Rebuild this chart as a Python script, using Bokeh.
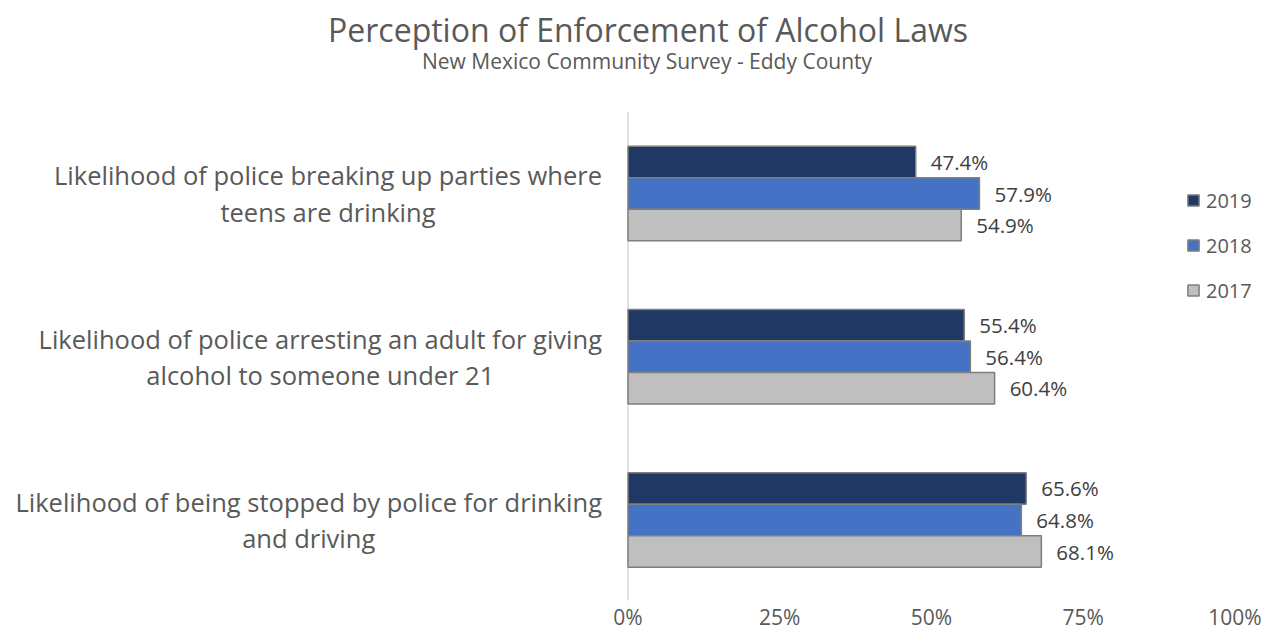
from bokeh.plotting import figure
from bokeh.models import Range1d, FixedTicker, PrintfTickFormatter, Label, Legend, LegendItem
from bokeh.core.properties import value
from bokeh.embed import file_html
from bokeh.resources import INLINE

categories = [
    "Likelihood of police breaking up parties where\nteens are drinking",
    "Likelihood of police arresting an adult for giving\nalcohol to someone under 21",
    "Likelihood of being stopped by police for drinking\nand driving",
]
years = ["2019", "2018", "2017"]
v2019 = [47.4, 55.4, 65.6]
v2018 = [57.9, 56.4, 64.8]
v2017 = [54.9, 60.4, 68.1]
colors = ["#203864", "#4472C4", "#BFBFBF"]
tick_values = [0, 25, 50, 75, 100]

FONT = "Open Sans"
TXT = "#595959"

W, H = 1263, 634
PX_PER = 6.07       # pixels per percent
X0 = 627.5          # pixel position of 0%
FRAME_H = 600
CAT_PX = 163.25     # pixels per category
CAT0 = 193          # pixel centre of first category
BH = 0.193          # bar height in category units

p = figure(width=W, height=H, output_backend="svg", toolbar_location=None,
           x_range=Range1d(-X0 / PX_PER, (W - X0) / PX_PER),
           y_range=Range1d((FRAME_H - CAT0) / CAT_PX, -CAT0 / CAT_PX),
           y_axis_location=None,
           min_border_left=0, min_border_right=0, min_border_top=0,
           min_border_bottom=H - FRAME_H)
p.xgrid.visible = False
p.ygrid.visible = False
p.outline_line_color = None
p.background_fill_color = "white"
p.border_fill_color = "white"

# vertical axis line
n = len(categories)
p.segment(x0=[0], y0=[-0.5], x1=[0], y1=[n - 0.5], line_color="#d9d9d9", line_width=1.5)

series = [v2019, v2018, v2017]
offsets = [-BH, 0, BH]
renderers = []
for vals, col, off in zip(series, colors, offsets):
    ys = [i + off for i in range(n)]
    r = p.hbar(y=ys, left=0, right=vals, height=BH, fill_color=col,
               line_color="#7f7f7f", line_width=1.5)
    renderers.append(r)
    p.text(x=vals, y=ys, text=[f"{v:.1f}%" for v in vals], x_offset=15,
           text_align="left", text_baseline="middle", text_font=value(FONT),
           text_font_size="20.5px", text_color="#404040")

# category labels
p.text(x=[0] * n, y=list(range(n)), text=categories, x_offset=-26,
       text_align="center", anchor="center_right", text_baseline="middle",
       text_line_height=1.06, text_font=value(FONT), text_font_size="25.5px",
       text_color=TXT)

# x axis
ax = p.xaxis[0]
ax.ticker = FixedTicker(ticks=tick_values)
ax.formatter = PrintfTickFormatter(format="%d%%")
ax.axis_line_color = None
ax.major_tick_line_color = None
ax.minor_tick_line_color = None
ax.major_tick_out = 0
ax.major_tick_in = 0
ax.major_label_standoff = 2
ax.major_label_text_font = FONT
ax.major_label_text_font_size = "21px"
ax.major_label_text_color = TXT

# titles
p.add_layout(Label(x=647.5, y=FRAME_H - 29, x_units="screen", y_units="screen",
                   text="Perception of Enforcement of Alcohol Laws",
                   text_align="center", text_baseline="middle",
                   text_font=FONT, text_font_size="32px", text_color=TXT))
p.add_layout(Label(x=646.5, y=FRAME_H - 60, x_units="screen", y_units="screen",
                   text="New Mexico Community Survey - Eddy County",
                   text_align="center", text_baseline="middle",
                   text_font=FONT, text_font_size="21px", text_color=TXT))

legend = Legend(items=[LegendItem(label=y, renderers=[r]) for y, r in zip(years, renderers)],
                location=(1186, FRAME_H - 303.5), orientation="vertical",
                glyph_width=14, glyph_height=14, label_height=20, spacing=18,
                padding=0, margin=0, border_line_color=None, background_fill_alpha=0,
                label_standoff=6, label_text_font=FONT, label_text_font_size="20px",
                label_text_color=TXT)
p.add_layout(legend)

open("out.html", "w").write(file_html(p, INLINE))
